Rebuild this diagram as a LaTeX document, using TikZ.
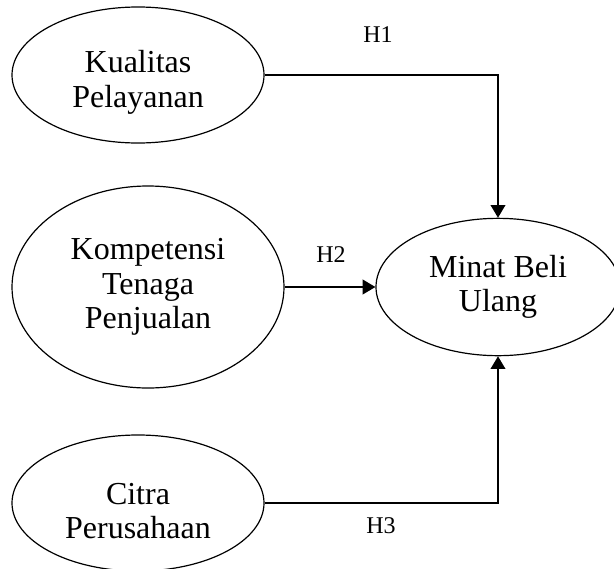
\documentclass[tikz,border=0pt]{standalone}
\usepackage{fontspec}
\setmainfont{Liberation Serif}
\usetikzlibrary{arrows.meta,shapes.geometric}

\begin{document}
\begin{tikzpicture}[
    x=0.75pt, y=-0.75pt,
    var/.style={ellipse, draw=black, line width=0.9pt, align=center, inner sep=0pt, font=\fontsize{24}{26}\selectfont},
    hyp/.style={font=\fontsize{18}{20}\selectfont},
    arrow/.style={-{Triangle[length=9.5pt, width=11pt]}, line width=1.1pt}
]
\useasboundingbox (0,0) rectangle (614,568);
\node[var, minimum width=189pt, minimum height=102pt] (kualitas) at (138,75) {\rule{0pt}{28pt}Kualitas\\Pelayanan};
\node[var, minimum width=204pt, minimum height=151.5pt] (kompetensi) at (148,287) {Kompetensi\\Tenaga\\Penjualan};
\node[var, minimum width=189pt, minimum height=102pt] (citra) at (138,503) {\rule{0pt}{28pt}Citra\\Perusahaan};
\node[var, minimum width=183pt, minimum height=103pt] (minat) at (498,287) {Minat Beli\\Ulang};
\node[hyp] (h1) at (378,35) {H1};
\node[hyp] (h2) at (331,255) {H2};
\node[hyp] (h3) at (381,526) {H3};
\draw[arrow] (kualitas.east) -| (minat.north);
\draw[arrow] (kompetensi.east) -- (minat.west);
\draw[arrow] (citra.east) -| (minat.south);
\end{tikzpicture}
\end{document}
